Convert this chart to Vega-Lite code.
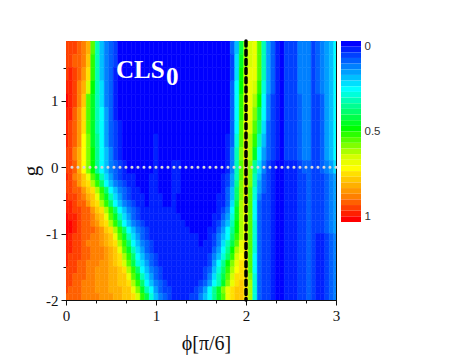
{"$schema":"https://vega.github.io/schema/vega-lite/v6.json","padding":{"left":20,"top":38,"right":5,"bottom":5},"background":"white","spacing":-2,"config":{"view":{"stroke":"#111","strokeWidth":1}},
"datasets":{"grid":[
{"g_lo":1.7,"g_hi":1.9,"phi":[0,0.05,0.1,0.15,0.2,0.25,0.3,0.35,0.4,0.45,0.5,0.55,0.6,0.65,0.7,0.75,0.8,0.85,0.9,0.95,1,1.05,1.1,1.15,1.2,1.25,1.3,1.35,1.4,1.45,1.5,1.55,1.6,1.65,1.7,1.75,1.8,1.85,1.9,1.95,2,2.05,2.1,2.15,2.2,2.25,2.3,2.35,2.4,2.45,2.5,2.55,2.6,2.65,2.7,2.75,2.8,2.85,2.9,2.95,3],"v":[0.93,0.91,0.92,0.9,0.87,0.8,0.55,0.33,0.2,0.13,0.1,0.07,0.03,0.02,0.02,0.02,0.02,0.02,0.02,0.02,0.02,0.02,0.02,0.02,0.02,0.02,0.02,0.02,0.02,0.02,0.02,0.02,0.02,0.02,0.02,0.02,0.03,0.1,0.2,0.42,0.6,0.64,0.66,0.55,0.33,0.17,0.1,0.06,0.03,0.08,0.08,0.08,0.13,0.15,0.15,0.09,0.1,0.13,0.18,0.2,0.27]},
{"g_lo":1.5,"g_hi":1.7,"phi":[0,0.05,0.1,0.15,0.2,0.25,0.3,0.35,0.4,0.45,0.5,0.55,0.6,0.65,0.7,0.75,0.8,0.85,0.9,0.95,1,1.05,1.1,1.15,1.2,1.25,1.3,1.35,1.4,1.45,1.5,1.55,1.6,1.65,1.7,1.75,1.8,1.85,1.9,1.95,2,2.05,2.1,2.15,2.2,2.25,2.3,2.35,2.4,2.45,2.5,2.55,2.6,2.65,2.7,2.75,2.8,2.85,2.9,2.95,3],"v":[0.92,0.93,0.9,0.88,0.86,0.78,0.53,0.33,0.2,0.13,0.1,0.07,0.03,0.02,0.02,0.02,0.02,0.02,0.02,0.02,0.02,0.02,0.02,0.02,0.02,0.02,0.02,0.02,0.02,0.02,0.02,0.02,0.02,0.02,0.02,0.02,0.03,0.09,0.22,0.45,0.62,0.65,0.67,0.56,0.34,0.18,0.1,0.06,0.03,0.08,0.08,0.08,0.13,0.15,0.15,0.09,0.1,0.13,0.18,0.2,0.27]},
{"g_lo":1.3,"g_hi":1.5,"phi":[0,0.05,0.1,0.15,0.2,0.25,0.3,0.35,0.4,0.45,0.5,0.55,0.6,0.65,0.7,0.75,0.8,0.85,0.9,0.95,1,1.05,1.1,1.15,1.2,1.25,1.3,1.35,1.4,1.45,1.5,1.55,1.6,1.65,1.7,1.75,1.8,1.85,1.9,1.95,2,2.05,2.1,2.15,2.2,2.25,2.3,2.35,2.4,2.45,2.5,2.55,2.6,2.65,2.7,2.75,2.8,2.85,2.9,2.95,3],"v":[0.93,0.94,0.92,0.88,0.83,0.72,0.5,0.33,0.21,0.14,0.1,0.06,0.03,0.02,0.02,0.02,0.02,0.02,0.02,0.02,0.02,0.02,0.02,0.02,0.02,0.02,0.02,0.02,0.02,0.02,0.02,0.02,0.02,0.02,0.02,0.02,0.03,0.09,0.23,0.47,0.63,0.66,0.66,0.54,0.32,0.17,0.1,0.06,0.03,0.08,0.08,0.08,0.13,0.15,0.15,0.09,0.1,0.13,0.18,0.2,0.27]},
{"g_lo":1.1,"g_hi":1.3,"phi":[0,0.05,0.1,0.15,0.2,0.25,0.3,0.35,0.4,0.45,0.5,0.55,0.6,0.65,0.7,0.75,0.8,0.85,0.9,0.95,1,1.05,1.1,1.15,1.2,1.25,1.3,1.35,1.4,1.45,1.5,1.55,1.6,1.65,1.7,1.75,1.8,1.85,1.9,1.95,2,2.05,2.1,2.15,2.2,2.25,2.3,2.35,2.4,2.45,2.5,2.55,2.6,2.65,2.7,2.75,2.8,2.85,2.9,2.95,3],"v":[0.95,0.95,0.92,0.87,0.8,0.65,0.48,0.33,0.23,0.14,0.1,0.06,0.03,0.02,0.02,0.02,0.02,0.02,0.02,0.02,0.02,0.02,0.02,0.02,0.02,0.02,0.02,0.02,0.02,0.02,0.02,0.02,0.02,0.02,0.02,0.02,0.03,0.1,0.25,0.48,0.64,0.67,0.65,0.52,0.3,0.16,0.1,0.06,0.03,0.08,0.08,0.08,0.13,0.15,0.15,0.09,0.1,0.13,0.18,0.2,0.27]},
{"g_lo":0.9,"g_hi":1.1,"phi":[0,0.05,0.1,0.15,0.2,0.25,0.3,0.35,0.4,0.45,0.5,0.55,0.6,0.65,0.7,0.75,0.8,0.85,0.9,0.95,1,1.05,1.1,1.15,1.2,1.25,1.3,1.35,1.4,1.45,1.5,1.55,1.6,1.65,1.7,1.75,1.8,1.85,1.9,1.95,2,2.05,2.1,2.15,2.2,2.25,2.3,2.35,2.4,2.45,2.5,2.55,2.6,2.65,2.7,2.75,2.8,2.85,2.9,2.95,3],"v":[0.97,0.96,0.92,0.85,0.75,0.56,0.45,0.33,0.24,0.15,0.1,0.06,0.03,0.02,0.02,0.02,0.02,0.02,0.02,0.02,0.02,0.02,0.02,0.02,0.02,0.02,0.02,0.02,0.02,0.02,0.02,0.02,0.02,0.02,0.02,0.02,0.03,0.1,0.26,0.5,0.66,0.67,0.62,0.47,0.28,0.15,0.08,0.05,0.03,0.07,0.07,0.07,0.11,0.13,0.13,0.08,0.09,0.12,0.16,0.19,0.26]},
{"g_lo":0.7,"g_hi":0.9,"phi":[0,0.05,0.1,0.15,0.2,0.25,0.3,0.35,0.4,0.45,0.5,0.55,0.6,0.65,0.7,0.75,0.8,0.85,0.9,0.95,1,1.05,1.1,1.15,1.2,1.25,1.3,1.35,1.4,1.45,1.5,1.55,1.6,1.65,1.7,1.75,1.8,1.85,1.9,1.95,2,2.05,2.1,2.15,2.2,2.25,2.3,2.35,2.4,2.45,2.5,2.55,2.6,2.65,2.7,2.75,2.8,2.85,2.9,2.95,3],"v":[0.96,0.95,0.9,0.84,0.73,0.55,0.45,0.34,0.25,0.16,0.1,0.06,0.03,0.02,0.02,0.02,0.02,0.02,0.02,0.02,0.02,0.02,0.02,0.02,0.02,0.02,0.02,0.02,0.02,0.02,0.02,0.02,0.02,0.02,0.02,0.02,0.03,0.1,0.27,0.52,0.68,0.66,0.58,0.42,0.25,0.13,0.08,0.05,0.03,0.07,0.07,0.07,0.11,0.13,0.13,0.08,0.09,0.12,0.16,0.19,0.26]},
{"g_lo":0.5,"g_hi":0.7,"phi":[0,0.05,0.1,0.15,0.2,0.25,0.3,0.35,0.4,0.45,0.5,0.55,0.6,0.65,0.7,0.75,0.8,0.85,0.9,0.95,1,1.05,1.1,1.15,1.2,1.25,1.3,1.35,1.4,1.45,1.5,1.55,1.6,1.65,1.7,1.75,1.8,1.85,1.9,1.95,2,2.05,2.1,2.15,2.2,2.25,2.3,2.35,2.4,2.45,2.5,2.55,2.6,2.65,2.7,2.75,2.8,2.85,2.9,2.95,3],"v":[0.95,0.93,0.89,0.83,0.72,0.56,0.46,0.34,0.25,0.17,0.11,0.07,0.04,0.02,0.02,0.02,0.02,0.02,0.02,0.02,0.02,0.02,0.02,0.02,0.02,0.02,0.02,0.02,0.02,0.02,0.02,0.02,0.02,0.02,0.02,0.02,0.03,0.1,0.28,0.54,0.7,0.64,0.54,0.38,0.22,0.12,0.08,0.05,0.03,0.07,0.07,0.07,0.11,0.13,0.13,0.08,0.09,0.12,0.16,0.19,0.26]},
{"g_lo":0.3,"g_hi":0.5,"phi":[0,0.05,0.1,0.15,0.2,0.25,0.3,0.35,0.4,0.45,0.5,0.55,0.6,0.65,0.7,0.75,0.8,0.85,0.9,0.95,1,1.05,1.1,1.15,1.2,1.25,1.3,1.35,1.4,1.45,1.5,1.55,1.6,1.65,1.7,1.75,1.8,1.85,1.9,1.95,2,2.05,2.1,2.15,2.2,2.25,2.3,2.35,2.4,2.45,2.5,2.55,2.6,2.65,2.7,2.75,2.8,2.85,2.9,2.95,3],"v":[0.94,0.92,0.88,0.82,0.71,0.57,0.46,0.35,0.26,0.18,0.12,0.08,0.05,0.03,0.02,0.02,0.02,0.02,0.02,0.02,0.04,0.02,0.02,0.02,0.02,0.02,0.02,0.02,0.02,0.02,0.02,0.02,0.02,0.02,0.02,0.02,0.04,0.12,0.3,0.56,0.72,0.62,0.5,0.33,0.2,0.11,0.08,0.05,0.03,0.07,0.07,0.07,0.11,0.13,0.13,0.08,0.09,0.12,0.16,0.19,0.26]},
{"g_lo":0.1,"g_hi":0.3,"phi":[0,0.05,0.1,0.15,0.2,0.25,0.3,0.35,0.4,0.45,0.5,0.55,0.6,0.65,0.7,0.75,0.8,0.85,0.9,0.95,1,1.05,1.1,1.15,1.2,1.25,1.3,1.35,1.4,1.45,1.5,1.55,1.6,1.65,1.7,1.75,1.8,1.85,1.9,1.95,2,2.05,2.1,2.15,2.2,2.25,2.3,2.35,2.4,2.45,2.5,2.55,2.6,2.65,2.7,2.75,2.8,2.85,2.9,2.95,3],"v":[0.93,0.91,0.87,0.81,0.7,0.58,0.47,0.35,0.26,0.19,0.13,0.09,0.06,0.03,0.02,0.02,0.02,0.02,0.02,0.03,0.04,0.03,0.02,0.02,0.02,0.02,0.02,0.02,0.02,0.02,0.02,0.02,0.02,0.02,0.02,0.02,0.05,0.14,0.32,0.58,0.72,0.6,0.45,0.28,0.17,0.1,0.08,0.05,0.03,0.07,0.07,0.07,0.11,0.13,0.13,0.08,0.09,0.12,0.16,0.19,0.26]},
{"g_lo":-0.1,"g_hi":0.1,"phi":[0,0.05,0.1,0.15,0.2,0.25,0.3,0.35,0.4,0.45,0.5,0.55,0.6,0.65,0.7,0.75,0.8,0.85,0.9,0.95,1,1.05,1.1,1.15,1.2,1.25,1.3,1.35,1.4,1.45,1.5,1.55,1.6,1.65,1.7,1.75,1.8,1.85,1.9,1.95,2,2.05,2.1,2.15,2.2,2.25,2.3,2.35,2.4,2.45,2.5,2.55,2.6,2.65,2.7,2.75,2.8,2.85,2.9,2.95,3],"v":[0.93,0.91,0.88,0.8,0.7,0.58,0.47,0.35,0.26,0.19,0.13,0.1,0.07,0.04,0.03,0.02,0.02,0.02,0.03,0.03,0.04,0.03,0.02,0.02,0.04,0.04,0.02,0.02,0.02,0.02,0.02,0.02,0.02,0.02,0.02,0.02,0.05,0.15,0.33,0.55,0.74,0.58,0.36,0.22,0.13,0.09,0.05,0.03,0.02,0.05,0.06,0.06,0.08,0.1,0.1,0.07,0.08,0.1,0.14,0.17,0.24]},
{"g_lo":-0.2,"g_hi":-0.1,"phi":[0,0.05,0.1,0.15,0.2,0.25,0.3,0.35,0.4,0.45,0.5,0.55,0.6,0.65,0.7,0.75,0.8,0.85,0.9,0.95,1,1.05,1.1,1.15,1.2,1.25,1.3,1.35,1.4,1.45,1.5,1.55,1.6,1.65,1.7,1.75,1.8,1.85,1.9,1.95,2,2.05,2.1,2.15,2.2,2.25,2.3,2.35,2.4,2.45,2.5,2.55,2.6,2.65,2.7,2.75,2.8,2.85,2.9,2.95,3],"v":[0.94,0.92,0.87,0.82,0.75,0.67,0.56,0.44,0.33,0.24,0.17,0.12,0.09,0.06,0.05,0.04,0.03,0.03,0.03,0.04,0.04,0.03,0.02,0.02,0.04,0.04,0.02,0.02,0.02,0.02,0.02,0.02,0.02,0.02,0.03,0.05,0.07,0.16,0.34,0.56,0.74,0.58,0.34,0.2,0.12,0.09,0.05,0.02,0.02,0.05,0.05,0.05,0.07,0.09,0.1,0.07,0.07,0.08,0.11,0.13,0.18]},
{"g_lo":-0.3,"g_hi":-0.2,"phi":[0,0.05,0.1,0.15,0.2,0.25,0.3,0.35,0.4,0.45,0.5,0.55,0.6,0.65,0.7,0.75,0.8,0.85,0.9,0.95,1,1.05,1.1,1.15,1.2,1.25,1.3,1.35,1.4,1.45,1.5,1.55,1.6,1.65,1.7,1.75,1.8,1.85,1.9,1.95,2,2.05,2.1,2.15,2.2,2.25,2.3,2.35,2.4,2.45,2.5,2.55,2.6,2.65,2.7,2.75,2.8,2.85,2.9,2.95,3],"v":[0.93,0.92,0.88,0.84,0.78,0.72,0.62,0.5,0.38,0.28,0.2,0.14,0.1,0.07,0.05,0.04,0.03,0.03,0.03,0.04,0.04,0.03,0.02,0.02,0.04,0.04,0.02,0.02,0.02,0.02,0.02,0.02,0.02,0.02,0.03,0.05,0.08,0.17,0.36,0.57,0.73,0.57,0.32,0.18,0.11,0.08,0.05,0.02,0.02,0.05,0.05,0.05,0.07,0.09,0.1,0.07,0.07,0.08,0.11,0.13,0.18]},
{"g_lo":-0.4,"g_hi":-0.3,"phi":[0,0.05,0.1,0.15,0.2,0.25,0.3,0.35,0.4,0.45,0.5,0.55,0.6,0.65,0.7,0.75,0.8,0.85,0.9,0.95,1,1.05,1.1,1.15,1.2,1.25,1.3,1.35,1.4,1.45,1.5,1.55,1.6,1.65,1.7,1.75,1.8,1.85,1.9,1.95,2,2.05,2.1,2.15,2.2,2.25,2.3,2.35,2.4,2.45,2.5,2.55,2.6,2.65,2.7,2.75,2.8,2.85,2.9,2.95,3],"v":[0.93,0.93,0.9,0.88,0.84,0.78,0.72,0.62,0.5,0.38,0.28,0.2,0.14,0.1,0.07,0.05,0.04,0.03,0.03,0.04,0.04,0.03,0.02,0.02,0.04,0.04,0.02,0.02,0.02,0.02,0.02,0.02,0.02,0.02,0.03,0.05,0.1,0.19,0.38,0.58,0.73,0.56,0.3,0.16,0.1,0.08,0.05,0.02,0.02,0.05,0.05,0.05,0.07,0.09,0.1,0.07,0.07,0.08,0.11,0.13,0.18]},
{"g_lo":-0.5,"g_hi":-0.4,"phi":[0,0.05,0.1,0.15,0.2,0.25,0.3,0.35,0.4,0.45,0.5,0.55,0.6,0.65,0.7,0.75,0.8,0.85,0.9,0.95,1,1.05,1.1,1.15,1.2,1.25,1.3,1.35,1.4,1.45,1.5,1.55,1.6,1.65,1.7,1.75,1.8,1.85,1.9,1.95,2,2.05,2.1,2.15,2.2,2.25,2.3,2.35,2.4,2.45,2.5,2.55,2.6,2.65,2.7,2.75,2.8,2.85,2.9,2.95,3],"v":[0.94,0.93,0.92,0.89,0.86,0.81,0.75,0.67,0.56,0.44,0.33,0.24,0.17,0.12,0.09,0.06,0.05,0.04,0.03,0.04,0.04,0.04,0.03,0.03,0.04,0.03,0.02,0.02,0.02,0.02,0.02,0.02,0.02,0.03,0.04,0.05,0.1,0.2,0.4,0.59,0.72,0.56,0.29,0.14,0.09,0.07,0.05,0.02,0.02,0.05,0.05,0.05,0.07,0.09,0.1,0.07,0.07,0.08,0.11,0.13,0.18]},
{"g_lo":-0.6,"g_hi":-0.5,"phi":[0,0.05,0.1,0.15,0.2,0.25,0.3,0.35,0.4,0.45,0.5,0.55,0.6,0.65,0.7,0.75,0.8,0.85,0.9,0.95,1,1.05,1.1,1.15,1.2,1.25,1.3,1.35,1.4,1.45,1.5,1.55,1.6,1.65,1.7,1.75,1.8,1.85,1.9,1.95,2,2.05,2.1,2.15,2.2,2.25,2.3,2.35,2.4,2.45,2.5,2.55,2.6,2.65,2.7,2.75,2.8,2.85,2.9,2.95,3],"v":[0.95,0.94,0.92,0.9,0.88,0.84,0.78,0.72,0.62,0.5,0.38,0.28,0.2,0.14,0.1,0.07,0.05,0.04,0.03,0.04,0.04,0.04,0.03,0.03,0.04,0.03,0.02,0.02,0.02,0.02,0.02,0.02,0.02,0.03,0.04,0.06,0.11,0.22,0.43,0.6,0.72,0.55,0.27,0.12,0.08,0.07,0.05,0.02,0.02,0.05,0.05,0.05,0.07,0.09,0.1,0.07,0.07,0.08,0.11,0.13,0.18]},
{"g_lo":-0.7,"g_hi":-0.6,"phi":[0,0.05,0.1,0.15,0.2,0.25,0.3,0.35,0.4,0.45,0.5,0.55,0.6,0.65,0.7,0.75,0.8,0.85,0.9,0.95,1,1.05,1.1,1.15,1.2,1.25,1.3,1.35,1.4,1.45,1.5,1.55,1.6,1.65,1.7,1.75,1.8,1.85,1.9,1.95,2,2.05,2.1,2.15,2.2,2.25,2.3,2.35,2.4,2.45,2.5,2.55,2.6,2.65,2.7,2.75,2.8,2.85,2.9,2.95,3],"v":[0.96,0.95,0.93,0.92,0.9,0.88,0.84,0.78,0.72,0.62,0.5,0.38,0.28,0.2,0.14,0.1,0.07,0.05,0.04,0.04,0.04,0.04,0.04,0.04,0.04,0.03,0.02,0.02,0.02,0.02,0.02,0.02,0.02,0.03,0.05,0.08,0.14,0.26,0.45,0.62,0.72,0.56,0.28,0.12,0.08,0.07,0.05,0.02,0.02,0.05,0.05,0.05,0.07,0.09,0.1,0.07,0.07,0.08,0.11,0.13,0.18]},
{"g_lo":-0.8,"g_hi":-0.7,"phi":[0,0.05,0.1,0.15,0.2,0.25,0.3,0.35,0.4,0.45,0.5,0.55,0.6,0.65,0.7,0.75,0.8,0.85,0.9,0.95,1,1.05,1.1,1.15,1.2,1.25,1.3,1.35,1.4,1.45,1.5,1.55,1.6,1.65,1.7,1.75,1.8,1.85,1.9,1.95,2,2.05,2.1,2.15,2.2,2.25,2.3,2.35,2.4,2.45,2.5,2.55,2.6,2.65,2.7,2.75,2.8,2.85,2.9,2.95,3],"v":[0.97,0.96,0.94,0.92,0.9,0.89,0.86,0.81,0.75,0.67,0.56,0.44,0.33,0.24,0.17,0.12,0.09,0.06,0.05,0.04,0.04,0.04,0.04,0.04,0.04,0.04,0.03,0.02,0.02,0.02,0.02,0.02,0.03,0.04,0.06,0.1,0.17,0.29,0.45,0.6,0.7,0.56,0.28,0.11,0.08,0.07,0.05,0.02,0.02,0.05,0.05,0.05,0.07,0.09,0.1,0.07,0.07,0.08,0.11,0.13,0.18]},
{"g_lo":-0.9,"g_hi":-0.8,"phi":[0,0.05,0.1,0.15,0.2,0.25,0.3,0.35,0.4,0.45,0.5,0.55,0.6,0.65,0.7,0.75,0.8,0.85,0.9,0.95,1,1.05,1.1,1.15,1.2,1.25,1.3,1.35,1.4,1.45,1.5,1.55,1.6,1.65,1.7,1.75,1.8,1.85,1.9,1.95,2,2.05,2.1,2.15,2.2,2.25,2.3,2.35,2.4,2.45,2.5,2.55,2.6,2.65,2.7,2.75,2.8,2.85,2.9,2.95,3],"v":[0.98,0.97,0.95,0.92,0.9,0.88,0.87,0.84,0.78,0.72,0.62,0.5,0.38,0.28,0.2,0.14,0.1,0.07,0.05,0.04,0.04,0.04,0.04,0.04,0.04,0.04,0.04,0.03,0.03,0.02,0.02,0.02,0.03,0.05,0.08,0.13,0.21,0.32,0.47,0.62,0.7,0.55,0.29,0.11,0.08,0.07,0.05,0.02,0.02,0.05,0.05,0.05,0.07,0.09,0.1,0.07,0.07,0.08,0.11,0.13,0.18]},
{"g_lo":-1,"g_hi":-0.9,"phi":[0,0.05,0.1,0.15,0.2,0.25,0.3,0.35,0.4,0.45,0.5,0.55,0.6,0.65,0.7,0.75,0.8,0.85,0.9,0.95,1,1.05,1.1,1.15,1.2,1.25,1.3,1.35,1.4,1.45,1.5,1.55,1.6,1.65,1.7,1.75,1.8,1.85,1.9,1.95,2,2.05,2.1,2.15,2.2,2.25,2.3,2.35,2.4,2.45,2.5,2.55,2.6,2.65,2.7,2.75,2.8,2.85,2.9,2.95,3],"v":[0.98,0.97,0.94,0.92,0.9,0.89,0.88,0.87,0.84,0.78,0.72,0.62,0.5,0.38,0.28,0.2,0.14,0.1,0.07,0.05,0.04,0.04,0.04,0.04,0.04,0.04,0.04,0.04,0.03,0.03,0.03,0.03,0.04,0.06,0.1,0.16,0.25,0.35,0.48,0.6,0.7,0.55,0.3,0.1,0.08,0.07,0.05,0.02,0.02,0.05,0.05,0.05,0.07,0.09,0.1,0.07,0.07,0.08,0.11,0.13,0.18]},
{"g_lo":-1.1,"g_hi":-1,"phi":[0,0.05,0.1,0.15,0.2,0.25,0.3,0.35,0.4,0.45,0.5,0.55,0.6,0.65,0.7,0.75,0.8,0.85,0.9,0.95,1,1.05,1.1,1.15,1.2,1.25,1.3,1.35,1.4,1.45,1.5,1.55,1.6,1.65,1.7,1.75,1.8,1.85,1.9,1.95,2,2.05,2.1,2.15,2.2,2.25,2.3,2.35,2.4,2.45,2.5,2.55,2.6,2.65,2.7,2.75,2.8,2.85,2.9,2.95,3],"v":[0.97,0.96,0.92,0.92,0.9,0.88,0.87,0.86,0.83,0.8,0.75,0.67,0.56,0.44,0.33,0.24,0.17,0.12,0.09,0.06,0.05,0.04,0.04,0.04,0.04,0.04,0.04,0.04,0.04,0.04,0.03,0.03,0.05,0.08,0.13,0.19,0.28,0.38,0.5,0.62,0.7,0.55,0.3,0.1,0.08,0.07,0.05,0.02,0.02,0.05,0.05,0.05,0.07,0.09,0.11,0.07,0.06,0.06,0.08,0.1,0.13]},
{"g_lo":-1.2,"g_hi":-1.1,"phi":[0,0.05,0.1,0.15,0.2,0.25,0.3,0.35,0.4,0.45,0.5,0.55,0.6,0.65,0.7,0.75,0.8,0.85,0.9,0.95,1,1.05,1.1,1.15,1.2,1.25,1.3,1.35,1.4,1.45,1.5,1.55,1.6,1.65,1.7,1.75,1.8,1.85,1.9,1.95,2,2.05,2.1,2.15,2.2,2.25,2.3,2.35,2.4,2.45,2.5,2.55,2.6,2.65,2.7,2.75,2.8,2.85,2.9,2.95,3],"v":[0.96,0.95,0.92,0.93,0.9,0.87,0.87,0.86,0.84,0.81,0.78,0.72,0.62,0.5,0.38,0.28,0.2,0.14,0.1,0.07,0.05,0.04,0.04,0.04,0.04,0.04,0.04,0.04,0.04,0.04,0.03,0.04,0.05,0.09,0.15,0.22,0.32,0.42,0.55,0.66,0.72,0.55,0.29,0.1,0.08,0.07,0.05,0.02,0.02,0.05,0.05,0.05,0.07,0.09,0.11,0.07,0.06,0.06,0.08,0.1,0.13]},
{"g_lo":-1.3,"g_hi":-1.2,"phi":[0,0.05,0.1,0.15,0.2,0.25,0.3,0.35,0.4,0.45,0.5,0.55,0.6,0.65,0.7,0.75,0.8,0.85,0.9,0.95,1,1.05,1.1,1.15,1.2,1.25,1.3,1.35,1.4,1.45,1.5,1.55,1.6,1.65,1.7,1.75,1.8,1.85,1.9,1.95,2,2.05,2.1,2.15,2.2,2.25,2.3,2.35,2.4,2.45,2.5,2.55,2.6,2.65,2.7,2.75,2.8,2.85,2.9,2.95,3],"v":[0.95,0.94,0.93,0.92,0.9,0.88,0.87,0.86,0.85,0.83,0.8,0.75,0.67,0.56,0.44,0.33,0.24,0.17,0.12,0.08,0.06,0.05,0.04,0.04,0.04,0.04,0.04,0.04,0.04,0.04,0.04,0.04,0.06,0.1,0.17,0.25,0.36,0.48,0.6,0.68,0.73,0.55,0.29,0.1,0.08,0.07,0.05,0.02,0.02,0.05,0.05,0.05,0.07,0.09,0.11,0.07,0.06,0.06,0.08,0.1,0.13]},
{"g_lo":-1.4,"g_hi":-1.3,"phi":[0,0.05,0.1,0.15,0.2,0.25,0.3,0.35,0.4,0.45,0.5,0.55,0.6,0.65,0.7,0.75,0.8,0.85,0.9,0.95,1,1.05,1.1,1.15,1.2,1.25,1.3,1.35,1.4,1.45,1.5,1.55,1.6,1.65,1.7,1.75,1.8,1.85,1.9,1.95,2,2.05,2.1,2.15,2.2,2.25,2.3,2.35,2.4,2.45,2.5,2.55,2.6,2.65,2.7,2.75,2.8,2.85,2.9,2.95,3],"v":[0.94,0.93,0.92,0.91,0.89,0.88,0.87,0.86,0.85,0.83,0.81,0.78,0.72,0.62,0.5,0.38,0.28,0.2,0.14,0.1,0.07,0.05,0.05,0.04,0.04,0.04,0.04,0.04,0.04,0.04,0.04,0.05,0.08,0.14,0.21,0.29,0.4,0.52,0.63,0.7,0.73,0.55,0.28,0.1,0.08,0.07,0.05,0.02,0.02,0.05,0.05,0.05,0.07,0.09,0.11,0.07,0.06,0.06,0.08,0.1,0.13]},
{"g_lo":-1.5,"g_hi":-1.4,"phi":[0,0.05,0.1,0.15,0.2,0.25,0.3,0.35,0.4,0.45,0.5,0.55,0.6,0.65,0.7,0.75,0.8,0.85,0.9,0.95,1,1.05,1.1,1.15,1.2,1.25,1.3,1.35,1.4,1.45,1.5,1.55,1.6,1.65,1.7,1.75,1.8,1.85,1.9,1.95,2,2.05,2.1,2.15,2.2,2.25,2.3,2.35,2.4,2.45,2.5,2.55,2.6,2.65,2.7,2.75,2.8,2.85,2.9,2.95,3],"v":[0.94,0.93,0.92,0.9,0.88,0.87,0.86,0.85,0.84,0.83,0.81,0.78,0.73,0.65,0.54,0.42,0.31,0.23,0.16,0.11,0.08,0.06,0.05,0.05,0.04,0.04,0.04,0.04,0.04,0.04,0.04,0.05,0.09,0.17,0.25,0.35,0.47,0.58,0.67,0.72,0.73,0.55,0.28,0.1,0.08,0.07,0.05,0.02,0.02,0.05,0.05,0.05,0.07,0.09,0.11,0.07,0.06,0.06,0.08,0.1,0.13]},
{"g_lo":-1.6,"g_hi":-1.5,"phi":[0,0.05,0.1,0.15,0.2,0.25,0.3,0.35,0.4,0.45,0.5,0.55,0.6,0.65,0.7,0.75,0.8,0.85,0.9,0.95,1,1.05,1.1,1.15,1.2,1.25,1.3,1.35,1.4,1.45,1.5,1.55,1.6,1.65,1.7,1.75,1.8,1.85,1.9,1.95,2,2.05,2.1,2.15,2.2,2.25,2.3,2.35,2.4,2.45,2.5,2.55,2.6,2.65,2.7,2.75,2.8,2.85,2.9,2.95,3],"v":[0.93,0.92,0.91,0.89,0.88,0.87,0.85,0.84,0.83,0.82,0.81,0.8,0.76,0.72,0.62,0.5,0.38,0.28,0.2,0.14,0.1,0.07,0.05,0.05,0.05,0.05,0.05,0.05,0.05,0.05,0.05,0.07,0.11,0.2,0.29,0.4,0.52,0.62,0.7,0.73,0.73,0.56,0.28,0.1,0.08,0.07,0.05,0.02,0.02,0.05,0.05,0.05,0.07,0.09,0.11,0.07,0.06,0.06,0.08,0.1,0.13]},
{"g_lo":-1.7,"g_hi":-1.6,"phi":[0,0.05,0.1,0.15,0.2,0.25,0.3,0.35,0.4,0.45,0.5,0.55,0.6,0.65,0.7,0.75,0.8,0.85,0.9,0.95,1,1.05,1.1,1.15,1.2,1.25,1.3,1.35,1.4,1.45,1.5,1.55,1.6,1.65,1.7,1.75,1.8,1.85,1.9,1.95,2,2.05,2.1,2.15,2.2,2.25,2.3,2.35,2.4,2.45,2.5,2.55,2.6,2.65,2.7,2.75,2.8,2.85,2.9,2.95,3],"v":[0.92,0.91,0.9,0.89,0.88,0.86,0.85,0.84,0.83,0.82,0.81,0.8,0.77,0.75,0.67,0.56,0.44,0.33,0.24,0.17,0.12,0.09,0.06,0.05,0.05,0.05,0.05,0.05,0.05,0.05,0.06,0.08,0.14,0.23,0.32,0.43,0.55,0.65,0.72,0.74,0.74,0.58,0.29,0.1,0.08,0.07,0.05,0.02,0.02,0.05,0.05,0.05,0.07,0.09,0.11,0.07,0.06,0.06,0.08,0.1,0.13]},
{"g_lo":-1.8,"g_hi":-1.7,"phi":[0,0.05,0.1,0.15,0.2,0.25,0.3,0.35,0.4,0.45,0.5,0.55,0.6,0.65,0.7,0.75,0.8,0.85,0.9,0.95,1,1.05,1.1,1.15,1.2,1.25,1.3,1.35,1.4,1.45,1.5,1.55,1.6,1.65,1.7,1.75,1.8,1.85,1.9,1.95,2,2.05,2.1,2.15,2.2,2.25,2.3,2.35,2.4,2.45,2.5,2.55,2.6,2.65,2.7,2.75,2.8,2.85,2.9,2.95,3],"v":[0.92,0.91,0.9,0.88,0.87,0.86,0.85,0.84,0.83,0.82,0.81,0.8,0.78,0.76,0.72,0.62,0.5,0.38,0.28,0.2,0.14,0.1,0.07,0.05,0.05,0.05,0.05,0.05,0.05,0.05,0.07,0.1,0.16,0.25,0.34,0.45,0.57,0.66,0.73,0.75,0.74,0.6,0.3,0.1,0.08,0.07,0.05,0.02,0.02,0.05,0.05,0.05,0.07,0.09,0.11,0.07,0.06,0.06,0.08,0.1,0.13]},
{"g_lo":-1.9,"g_hi":-1.8,"phi":[0,0.05,0.1,0.15,0.2,0.25,0.3,0.35,0.4,0.45,0.5,0.55,0.6,0.65,0.7,0.75,0.8,0.85,0.9,0.95,1,1.05,1.1,1.15,1.2,1.25,1.3,1.35,1.4,1.45,1.5,1.55,1.6,1.65,1.7,1.75,1.8,1.85,1.9,1.95,2,2.05,2.1,2.15,2.2,2.25,2.3,2.35,2.4,2.45,2.5,2.55,2.6,2.65,2.7,2.75,2.8,2.85,2.9,2.95,3],"v":[0.91,0.9,0.89,0.88,0.87,0.86,0.85,0.84,0.83,0.82,0.81,0.8,0.79,0.77,0.75,0.68,0.57,0.45,0.34,0.25,0.18,0.12,0.09,0.07,0.06,0.05,0.05,0.05,0.06,0.08,0.11,0.18,0.26,0.35,0.46,0.57,0.67,0.74,0.76,0.75,0.74,0.61,0.3,0.1,0.08,0.07,0.05,0.02,0.02,0.05,0.05,0.05,0.07,0.09,0.11,0.07,0.06,0.06,0.08,0.1,0.13]},
{"g_lo":-2,"g_hi":-1.9,"phi":[0,0.05,0.1,0.15,0.2,0.25,0.3,0.35,0.4,0.45,0.5,0.55,0.6,0.65,0.7,0.75,0.8,0.85,0.9,0.95,1,1.05,1.1,1.15,1.2,1.25,1.3,1.35,1.4,1.45,1.5,1.55,1.6,1.65,1.7,1.75,1.8,1.85,1.9,1.95,2,2.05,2.1,2.15,2.2,2.25,2.3,2.35,2.4,2.45,2.5,2.55,2.6,2.65,2.7,2.75,2.8,2.85,2.9,2.95,3],"v":[0.9,0.9,0.89,0.88,0.87,0.86,0.85,0.85,0.84,0.83,0.82,0.81,0.8,0.78,0.76,0.73,0.65,0.53,0.41,0.3,0.21,0.14,0.1,0.07,0.06,0.05,0.05,0.06,0.07,0.09,0.13,0.2,0.28,0.36,0.46,0.56,0.67,0.74,0.77,0.76,0.74,0.62,0.3,0.1,0.08,0.07,0.05,0.02,0.02,0.05,0.05,0.05,0.07,0.09,0.11,0.07,0.06,0.06,0.08,0.1,0.13]}
]},
"hconcat":[
{"width":270,"height":259,"resolve":{"axis":{"x":"independent","y":"independent"}},"layer":[
{"data":{"name":"grid"},"transform":[{"flatten":["phi","v"]}],
"mark":{"type":"rect","width":4.5,"clip":true,"strokeWidth":0.5},
"encoding":{
"x":{"field":"phi","type":"quantitative","scale":{"domain":[0,3],"nice":false,"zero":false},"axis":{"orient":"bottom","values":[0,1,2,3],"title":"ϕ[π/6]","titleFont":"Liberation Serif","titleFontSize":20,"titleFontWeight":"normal","titleColor":"#111","titlePadding":10,"titleX":140,"labelFont":"Liberation Serif","labelFontSize":15,"labelColor":"#111","labelPadding":3,"labelAngle":0,"labelFlush":false,"tickColor":"#111","domainColor":"#111","tickSize":5,"grid":false,"format":"d"}},
"y":{"field":"g_hi","type":"quantitative","scale":{"domain":[-2,1.9],"nice":false,"zero":false},"axis":{"orient":"left","values":[-2,-1,0,1],"title":"g","titleFont":"Liberation Serif","titleFontSize":21,"titleFontWeight":"normal","titleColor":"#111","titlePadding":4,"labelFont":"Liberation Serif","labelFontSize":15,"labelColor":"#111","labelPadding":3,"labelFlush":false,"tickColor":"#111","domainColor":"#111","tickSize":5,"grid":false,"labelExpr":"''+datum.value"}},
"y2":{"field":"g_lo"},
"color":{"field":"v","type":"quantitative","scale":{"type":"quantize","domain":[0,1],"range":["#0000ff","#0020ff","#0040ff","#0060ff","#0080ff","#009fff","#00bfff","#00dfff","#00ffff","#00ffdb","#00ffb6","#00ff92","#00ff6d","#00ff49","#00ff24","#00ff00","#2bff00","#55ff00","#80ff00","#aaff00","#d5ff00","#eaff00","#ffff00","#ffe000","#ffc800","#ffb000","#ff9800","#ff8000","#ff6000","#ff4000","#ff2000","#ff0000"]},"legend":null},
"stroke":{"field":"v","type":"quantitative","scale":{"type":"quantize","domain":[0,1],"range":["#0000ff","#0020ff","#0040ff","#0060ff","#0080ff","#009fff","#00bfff","#00dfff","#00ffff","#00ffdb","#00ffb6","#00ff92","#00ff6d","#00ff49","#00ff24","#00ff00","#2bff00","#55ff00","#80ff00","#aaff00","#d5ff00","#eaff00","#ffff00","#ffe000","#ffc800","#ffb000","#ff9800","#ff8000","#ff6000","#ff4000","#ff2000","#ff0000"]},"legend":null}
}},
{"data":{"values":[{"g":0}]},"mark":{"type":"rule","stroke":"#d8d8d8","strokeWidth":3,"strokeDash":[0.1,5.9],"strokeCap":"round"},"encoding":{"y":{"field":"g","type":"quantitative","scale":{"domain":[-2,1.9],"nice":false,"zero":false},"axis":{"orient":"left","values":[-1.5,-0.5,0.5,1.5],"labels":false,"title":null,"tickSize":3,"tickColor":"#111","domainColor":"#111","grid":false}}}},
{"data":{"values":[{"phi":2}]},"mark":{"type":"rule","stroke":"black","strokeWidth":3.5,"strokeDash":[5,4.2],"strokeCap":"round"},"encoding":{"x":{"field":"phi","type":"quantitative","scale":{"domain":[0,3],"nice":false,"zero":false},"axis":{"orient":"bottom","values":[0.333,0.667,1.333,1.667,2.333,2.667],"labels":false,"title":null,"tickSize":3,"tickColor":"#111","domainColor":"#111","grid":false}}}},
{"data":{"values":[{"phi":0.556,"g":1.34,"t":"CLS"},{"phi":1.11,"g":1.23,"t":"0"}]},"mark":{"type":"text","align":"left","baseline":"alphabetic","font":"Liberation Serif","fontWeight":"bold","fontSize":25,"color":"white"},"encoding":{"x":{"field":"phi","type":"quantitative","scale":{"domain":[0,3],"nice":false,"zero":false},"axis":null},"y":{"field":"g","type":"quantitative","scale":{"domain":[-2,1.9],"nice":false,"zero":false},"axis":null},"text":{"field":"t"}}}
]},
{"width":20,"height":181,"view":{"stroke":null},
"data":{"values":[{"lo":0,"hi":0.03125,"c":0.016},{"lo":0.03125,"hi":0.0625,"c":0.047},{"lo":0.0625,"hi":0.09375,"c":0.078},{"lo":0.09375,"hi":0.125,"c":0.109},{"lo":0.125,"hi":0.15625,"c":0.141},{"lo":0.15625,"hi":0.1875,"c":0.172},{"lo":0.1875,"hi":0.21875,"c":0.203},{"lo":0.21875,"hi":0.25,"c":0.234},{"lo":0.25,"hi":0.28125,"c":0.266},{"lo":0.28125,"hi":0.3125,"c":0.297},{"lo":0.3125,"hi":0.34375,"c":0.328},{"lo":0.34375,"hi":0.375,"c":0.359},{"lo":0.375,"hi":0.40625,"c":0.391},{"lo":0.40625,"hi":0.4375,"c":0.422},{"lo":0.4375,"hi":0.46875,"c":0.453},{"lo":0.46875,"hi":0.5,"c":0.484},{"lo":0.5,"hi":0.53125,"c":0.516},{"lo":0.53125,"hi":0.5625,"c":0.547},{"lo":0.5625,"hi":0.59375,"c":0.578},{"lo":0.59375,"hi":0.625,"c":0.609},{"lo":0.625,"hi":0.65625,"c":0.641},{"lo":0.65625,"hi":0.6875,"c":0.672},{"lo":0.6875,"hi":0.71875,"c":0.703},{"lo":0.71875,"hi":0.75,"c":0.734},{"lo":0.75,"hi":0.78125,"c":0.766},{"lo":0.78125,"hi":0.8125,"c":0.797},{"lo":0.8125,"hi":0.84375,"c":0.828},{"lo":0.84375,"hi":0.875,"c":0.859},{"lo":0.875,"hi":0.90625,"c":0.891},{"lo":0.90625,"hi":0.9375,"c":0.922},{"lo":0.9375,"hi":0.96875,"c":0.953},{"lo":0.96875,"hi":1,"c":0.984}]},
"mark":{"type":"rect","strokeWidth":0.4},
"encoding":{
"y":{"field":"lo","type":"quantitative","scale":{"domain":[0,1],"reverse":true,"nice":false,"zero":false},"axis":{"orient":"right","values":[0.03125,0.5,0.96875],"labelExpr":"datum.value<0.1?'0':datum.value>0.9?'1':'0.5'","title":null,"ticks":false,"domain":false,"grid":false,"labelFont":"Liberation Sans","labelFontSize":11.5,"labelColor":"#333","labelPadding":3,"labelFlush":false}},
"y2":{"field":"hi"},
"color":{"field":"c","type":"quantitative","scale":{"type":"quantize","domain":[0,1],"range":["#0000ff","#0020ff","#0040ff","#0060ff","#0080ff","#009fff","#00bfff","#00dfff","#00ffff","#00ffdb","#00ffb6","#00ff92","#00ff6d","#00ff49","#00ff24","#00ff00","#2bff00","#55ff00","#80ff00","#aaff00","#d5ff00","#eaff00","#ffff00","#ffe000","#ffc800","#ffb000","#ff9800","#ff8000","#ff6000","#ff4000","#ff2000","#ff0000"]},"legend":null}
}}
]}
